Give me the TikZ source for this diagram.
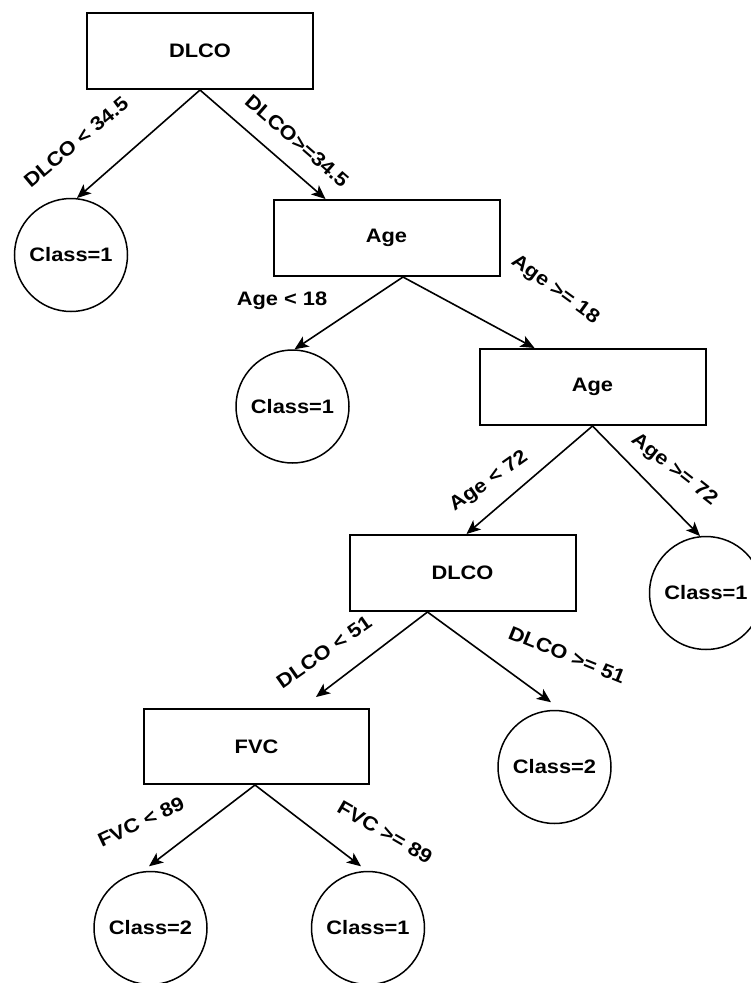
\documentclass[tikz,border=0pt]{standalone}
\usepackage{fontspec}
\setmainfont[FakeStretch=1.12]{Liberation Sans}
\usetikzlibrary{arrows.meta}
\begin{document}
\begin{tikzpicture}[x=1pt,y=-1pt,
  font=\fontsize{19.5}{23}\selectfont\bfseries,
  testbox/.style={draw,line width=2pt,rectangle,minimum width=226pt,minimum height=76pt,inner sep=0pt},
  leaf/.style={draw,line width=1.5pt,circle,minimum size=113pt,inner sep=0pt},
  edge/.style={line width=1.6pt,-{Stealth[length=14pt,width=12pt,inset=3.5pt]}},
  cond/.style={inner sep=0pt}]
\useasboundingbox (0,0) rectangle (750,983);

% decision nodes
\node[testbox] (b1) at (200,51) {DLCO};
\node[testbox] (b2) at (386.5,238) {Age};
\node[testbox] (b3) at (592.5,387) {Age};
\node[testbox] (b4) at (462.5,573) {DLCO};
\node[testbox,minimum width=225pt,minimum height=75pt] (b5) at (256.5,746.5) {FVC};

% leaves
\node[leaf] (c1) at (71,255) {Class=1};
\node[leaf] (c2) at (292.5,406.5) {Class=1};
\node[leaf] (c3) at (706,593) {Class=1};
\node[leaf] (c4) at (554.5,767) {Class=2};
\node[leaf] (c5) at (150.5,928) {Class=2};
\node[leaf] (c6) at (368,928) {Class=1};

% branches
\draw[edge] (b1.south) -- (c1.84);
\draw[edge] (b1.south) -- ([xshift=53pt]b2.north west);
\draw[edge] ([xshift=16.5pt]b2.south) -- (c2.88);
\draw[edge] ([xshift=16.5pt]b2.south) -- ([xshift=56pt]b3.north west);
\draw[edge] (b3.south) -- ([xshift=118pt]b4.north west);
\draw[edge] (b3.south) -- (c3.96);
\draw[edge] ([xshift=79pt]b4.south west) -- ([xshift=173pt,yshift=11pt]b5.north west);
\draw[edge] ([xshift=79pt]b4.south west) -- ([xshift=-3.5pt,yshift=7.5pt]c4.north);
\draw[edge] ([xshift=-1.5pt]b5.south) -- ([xshift=-1.5pt,yshift=4.5pt]c5.north);
\draw[edge] ([xshift=-1.5pt]b5.south) -- ([xshift=-7pt,yshift=4.5pt]c6.north);

% branch conditions
\node[cond,rotate=40] (l1) at (76,142) {DLCO < 34.5};
\node[cond,rotate=-41] (l2) at (297,141) {DLCO>=34.5};
\node[cond] (l3) at (282,301) {Age < 18};
\node[cond,rotate=-36] (l4) at (555,290) {Age >= 18};
\node[cond,rotate=35] (l5) at (489,482) {Age < 72};
\node[cond,rotate=-38] (l6) at (674,470) {Age >= 72};
\node[cond,rotate=35] (l7) at (324,652) {DLCO < 51};
\node[cond,rotate=-22] (l8) at (567,655) {DLCO >= 51};
\node[cond,rotate=25] (l9) at (141,822) {FVC < 89};
\node[cond,rotate=-30] (l10) at (385,832) {FVC >= 89};
\end{tikzpicture}
\end{document}
